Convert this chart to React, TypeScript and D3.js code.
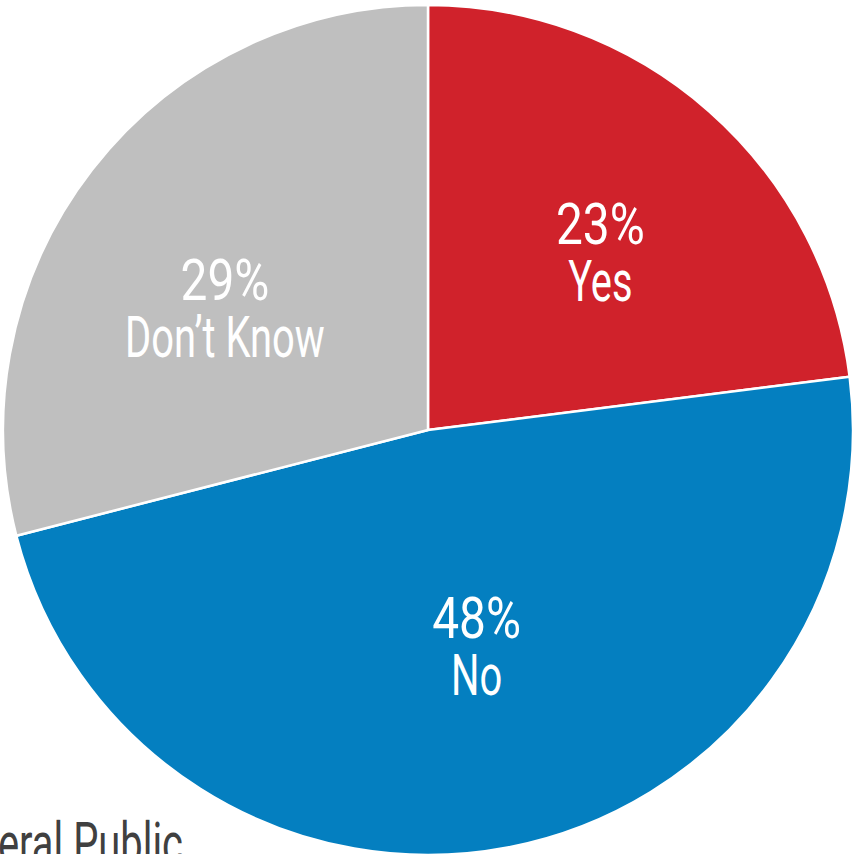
import React from "react";
import * as d3 from "d3";

const categories = ["Yes", "No", "Don\u2019t Know"];
const values = [23, 48, 29];
const labels = ["23%", "48%", "29%"];
const colors = ["#D0222B", "#047FC0", "#BFBFBF"];
const title = "General Public";

const W = 857;
const H = 854;
const CX = 428;
const CY = 430;
const R = 425;
const FONT = "Roboto, 'Noto Sans', sans-serif";
const SX = 0.7;
const SX_PCT = 0.84;
const FS = 57;

const nudges: [number, number][] = [
  [15, -2],
  [4, -21],
  [-15, 21],
];

export default function App() {
  const pie = d3
    .pie<number>()
    .sort(null)
    .value((d) => d);
  const arcs = pie(values);
  const arc = d3.arc<d3.PieArcDatum<number>>().innerRadius(0).outerRadius(R);
  const labelArc = d3
    .arc<d3.PieArcDatum<number>>()
    .innerRadius(R * 0.56)
    .outerRadius(R * 0.56);

  return (
    <svg
      width={W}
      height={H}
      style={{ position: "absolute", left: 0, top: 0, background: "#fff" }}
    >
      <g transform={`translate(${CX},${CY})`}>
        {arcs.map((a, i) => (
          <path
            key={categories[i]}
            d={arc(a) || ""}
            fill={colors[i]}
            stroke="#fff"
            strokeWidth={2.5}
            strokeLinejoin="round"
          />
        ))}
        {arcs.map((a, i) => {
          const [x, y] = labelArc.centroid(a);
          const lx = x + nudges[i][0];
          const ly = y + nudges[i][1];
          return (
            <g key={"l" + i} fill="#fff" fontFamily={FONT} fontSize={FS}>
              <text
                transform={`translate(${lx},${ly - 5}) scale(${SX_PCT},1)`}
                textAnchor="middle"
              >
                {labels[i]}
              </text>
              <text
                transform={`translate(${lx},${ly + 52}) scale(${SX},1)`}
                textAnchor="middle"
              >
                {categories[i]}
              </text>
            </g>
          );
        })}
      </g>
      <text
        transform={`translate(183,863) scale(${SX},1)`}
        textAnchor="end"
        fontFamily={FONT}
        fontSize={FS}
        fill="#404040"
      >
        {title}
      </text>
    </svg>
  );
}
